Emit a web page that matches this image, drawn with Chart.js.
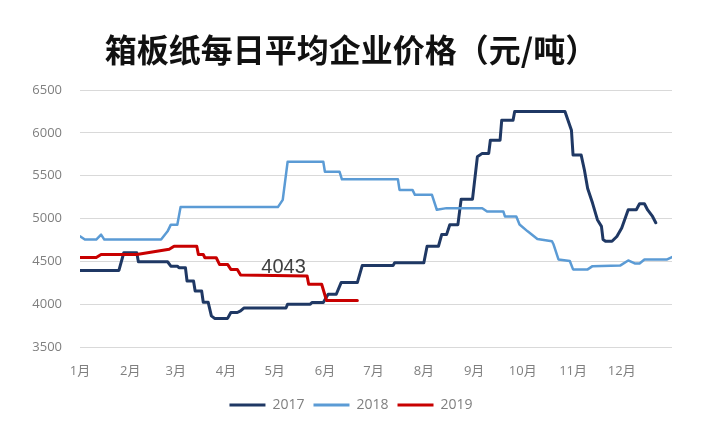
<!DOCTYPE html>
<html>
<head>
<meta charset="utf-8">
<script src="https://cdn.jsdelivr.net/npm/chart.js@4.4.1/dist/chart.umd.min.js"></script>
<style>
  html, body { margin: 0; padding: 0; background: #ffffff; }
  #wrap { width: 704px; height: 440px; }
</style>
</head>
<body>
<div id="wrap"><canvas id="c" width="704" height="440"></canvas></div>
<script>
// ---------- data ----------
const titleText = '箱板纸每日平均企业价格（元/吨）';
const monthLabels = ['1月','2月','3月','4月','5月','6月','7月','8月','9月','10月','11月','12月'];
const monthStartDays = [0,31,59,90,120,151,181,212,243,273,304,334];
const seriesNames = ['2017','2018','2019'];

// day of year (0 = 1 Jan) and price (元/吨)
const days2017 = [0,24,27,35,36,54,56,60,61,65,66,70,71,75,76,79,81,83,91,93,97,99,101,127,128,142,143,150,153,158,161,171,174,193,194,212,214,221,223,226,228,233,235,242,245,248,252,253,259,260,267,268,299,303,304,309,311,313,316,319,321.5,322.5,324,328,331,334,338,343,345,348,350,353,355];
const values2017 = [4394,4394,4600,4600,4495,4495,4444,4444,4426,4426,4270,4270,4154,4154,4023,4023,3864,3834,3834,3903,3903,3922,3955,3955,4000,4000,4019,4019,4116,4116,4252,4252,4450,4450,4484,4484,4676,4676,4812,4812,4928,4928,5226,5226,5720,5760,5760,5914,5914,6146,6146,6250,6250,6030,5740,5740,5566,5350,5180,4986,4908,4754,4734,4734,4790,4890,5102,5102,5172,5172,5100,5024,4950];

const days2018 = [0,3,10,13,15,50,54,56,60,62,122,125,128,150,151,160,161.5,196,197,205,206.5,217,220,226,248,251,261,262,269,271,276,282,291,292,295,302,304,313,316,333,338,342,345,348,362,365];
const values2018 = [4793,4754,4754,4812,4754,4754,4850,4928,4928,5133,5133,5218,5662,5662,5546,5546,5458,5458,5334,5334,5276,5276,5102,5121,5120,5082,5082,5024,5024,4930,4850,4760,4734,4696,4522,4503,4406,4406,4444,4450,4510,4475,4475,4522,4522,4549];

const days2019 = [0,10,13,35,55,58,72,73,76,77,84,86,91,93,97,99,140,141,149,152,171];
const values2019 = [4545,4545,4580,4580,4640,4676,4676,4580,4580,4542,4542,4464,4464,4406,4406,4340,4330,4232,4232,4043,4043];

// data label
const labelText = '4043';
const labelDay = 125.5;
const labelValue = 4430;

// ---------- chart ----------
function pts(days, vals) { return days.map((d, i) => ({ x: d, y: vals[i] })); }

const labelPlugin = {
  id: 'valueLabel',
  afterDatasetsDraw(chart) {
    const { ctx, scales } = chart;
    ctx.save();
    ctx.font = "20px 'Liberation Sans', Arial, sans-serif";
    ctx.fillStyle = '#404040';
    ctx.textAlign = 'center';
    ctx.textBaseline = 'middle';
    ctx.fillText(labelText, scales.x.getPixelForValue(labelDay), scales.y.getPixelForValue(labelValue));
    ctx.restore();
  }
};

new Chart(document.getElementById('c'), {
  type: 'line',
  data: {
    datasets: [
      { label: seriesNames[0], data: pts(days2017, values2017), borderColor: '#1F3864', backgroundColor: '#1F3864', borderWidth: 3, order: 3 },
      { label: seriesNames[1], data: pts(days2018, values2018), borderColor: '#5B9BD5', backgroundColor: '#5B9BD5', borderWidth: 2.5, order: 2 },
      { label: seriesNames[2], data: pts(days2019, values2019), borderColor: '#C80000', backgroundColor: '#C80000', borderWidth: 3, order: 1 }
    ]
  },
  options: {
    responsive: false,
    animation: false,
    elements: {
      point: { radius: 0 },
      line: { tension: 0, borderJoinStyle: 'round', borderCapStyle: 'round' }
    },
    layout: { padding: { top: 0, left: 30, right: 32, bottom: 18 } },
    plugins: {
      title: {
        display: true,
        text: titleText,
        color: '#111111',
        font: { family: "'Noto Sans CJK SC'", size: 32, weight: 'bold' },
        padding: { top: 31, bottom: 20.6 }
      },
      legend: {
        position: 'bottom',
        labels: {
          boxWidth: 36,
          boxHeight: 3,
          padding: 9,
          color: '#7f7f7f',
          font: { family: "'Open Sans', sans-serif", size: 14 },
          sort: (a, b) => a.datasetIndex - b.datasetIndex,
          generateLabels(chart) {
            const items = Chart.defaults.plugins.legend.labels.generateLabels(chart);
            items.forEach(it => {
              const ds = chart.data.datasets[it.datasetIndex];
              it.fillStyle = ds.borderColor;
              it.strokeStyle = ds.borderColor;
              it.lineWidth = 0;
            });
            return items;
          }
        }
      },
      tooltip: { enabled: false }
    },
    scales: {
      x: {
        type: 'linear',
        min: 0,
        max: 365,
        grid: { display: false, drawTicks: false },
        border: { display: false },
        afterBuildTicks(scale) { scale.ticks = monthStartDays.map(v => ({ value: v })); },
        afterFit(scale) { scale.height = 42; },
        ticks: {
          autoSkip: false,
          maxRotation: 0,
          padding: 16,
          color: '#7f7f7f',
          font: { family: "'Open Sans', 'Noto Sans CJK SC', sans-serif", size: 13 },
          callback: (v) => monthLabels[monthStartDays.indexOf(v)]
        }
      },
      y: {
        min: 3500,
        max: 6500,
        grid: { color: '#d9d9d9', lineWidth: 1, drawTicks: false },
        border: { display: false },
        afterFit(scale) { scale.width = 50; },
        ticks: {
          stepSize: 500,
          padding: 18,
          color: '#7f7f7f',
          font: { family: "'Open Sans', sans-serif", size: 13 },
          callback: (v) => String(v)
        }
      }
    }
  },
  plugins: [labelPlugin]
});
</script>
</body>
</html>
